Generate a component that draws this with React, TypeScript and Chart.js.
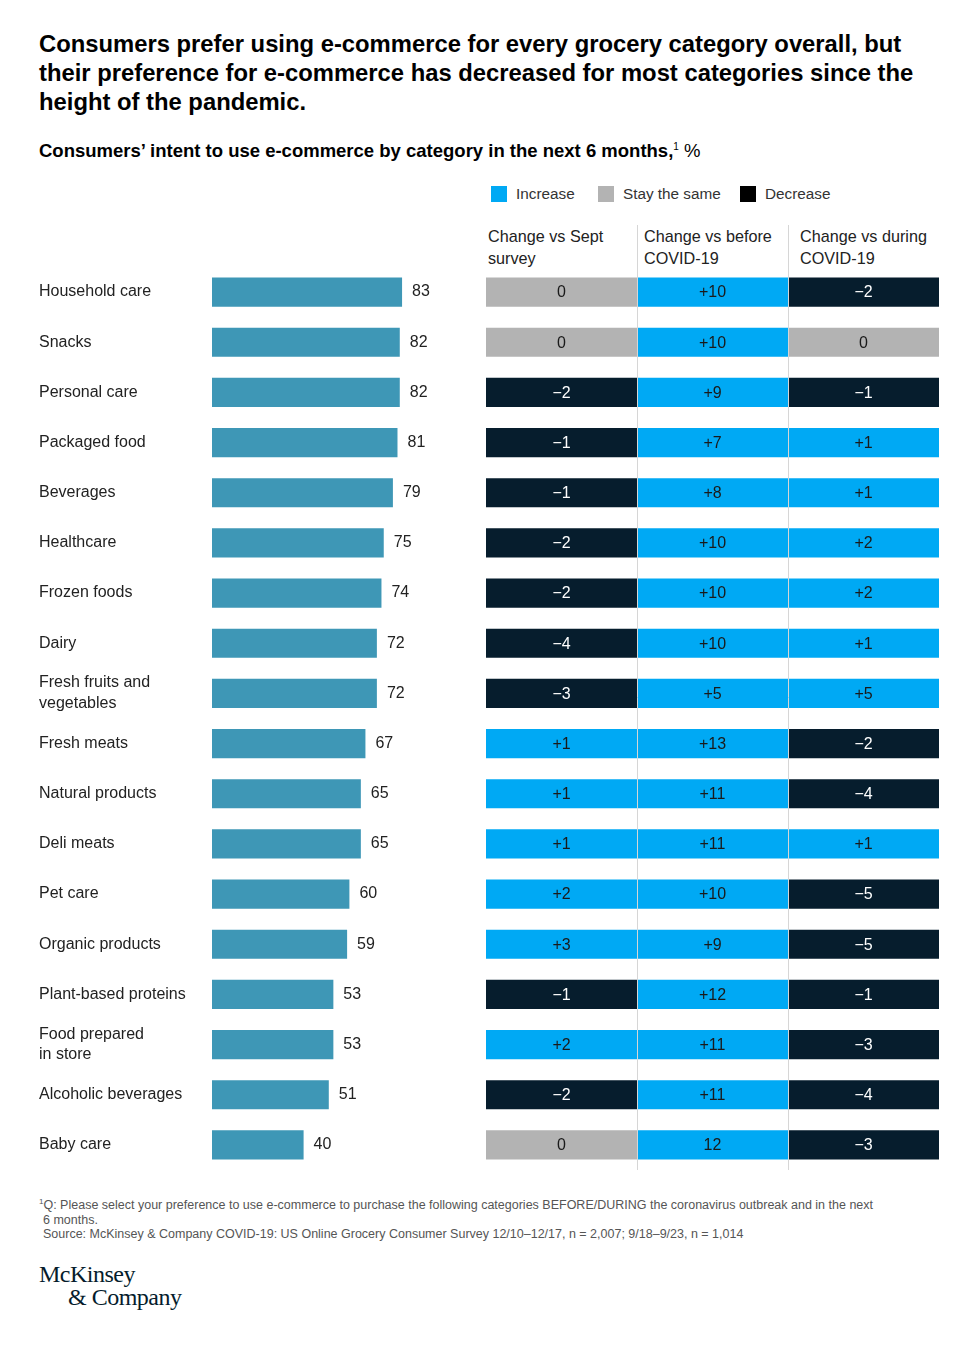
import React, { useEffect, useRef } from "react";
import { Chart, registerables } from "chart.js";

Chart.register(...registerables);

const categories: (string | string[])[] = [
  "Household care",
  "Snacks",
  "Personal care",
  "Packaged food",
  "Beverages",
  "Healthcare",
  "Frozen foods",
  "Dairy",
  ["Fresh fruits and", "vegetables"],
  "Fresh meats",
  "Natural products",
  "Deli meats",
  "Pet care",
  "Organic products",
  "Plant-based proteins",
  ["Food prepared", "in store"],
  "Alcoholic beverages",
  "Baby care",
];

const intentValues = [83, 82, 82, 81, 79, 75, 74, 72, 72, 67, 65, 65, 60, 59, 53, 53, 51, 40];

const changeVsSept = [0, 0, -2, -1, -1, -2, -2, -4, -3, 1, 1, 1, 2, 3, -1, 2, -2, 0];
const changeVsBefore = [10, 10, 9, 7, 8, 10, 10, 10, 5, 13, 11, 11, 10, 9, 12, 11, 11, 12];
const changeVsDuring = [-2, 0, -1, 1, 1, 2, 2, 1, 5, -2, -4, 1, -5, -5, -1, -3, -4, -3];

const columnHeaders = [
  ["Change vs Sept", "survey"],
  ["Change vs before", "COVID-19"],
  ["Change vs during", "COVID-19"],
];

// cells printed without a plus sign in the original (row, column)
const unsignedCells = [[17, 1]];

const FONT = "'Liberation Sans', Arial, sans-serif";
const BAR_COLOR = "#3E97B6";
const INC = "#00A9F4";
const SAME = "#B3B3B3";
const DEC = "#061D2D";

const colorFor = (v: number) => (v > 0 ? INC : v < 0 ? DEC : SAME);
const formatCell = (v: number, r: number, c: number) => {
  const unsigned = unsignedCells.some(([rr, cc]) => rr === r && cc === c);
  if (v > 0) return (unsigned ? "" : "+") + v;
  if (v < 0) return "\u2212" + Math.abs(v);
  return "0";
};

function LeftBars() {
  const ref = useRef<HTMLCanvasElement>(null);
  useEffect(() => {
    const valuePlugin = {
      id: "valueLabels",
      afterDatasetsDraw(chart: any) {
        const ctx = chart.ctx;
        const meta = chart.getDatasetMeta(0);
        ctx.save();
        ctx.font = `16px ${FONT}`;
        ctx.fillStyle = "#222";
        ctx.textAlign = "left";
        ctx.textBaseline = "middle";
        meta.data.forEach((el: any, i: number) => {
          ctx.fillText(String(intentValues[i]), el.x + 10, el.y);
        });
        ctx.restore();
      },
    };
    const chart = new Chart(ref.current!, {
      type: "bar",
      data: {
        labels: categories,
        datasets: [
          {
            data: intentValues,
            backgroundColor: BAR_COLOR,
            borderWidth: 0,
            barPercentage: 0.58,
            categoryPercentage: 1,
          },
        ],
      },
      options: {
        indexAxis: "y",
        responsive: false,
        animation: false,
        devicePixelRatio: 1,
        layout: { padding: 0 },
        plugins: { legend: { display: false }, tooltip: { enabled: false } },
        scales: {
          x: { min: 0, max: 100, display: false },
          y: {
            grid: { display: false, drawTicks: false },
            border: { display: false },
            ticks: {
              autoSkip: false,
              crossAlign: "far",
              padding: 0,
              color: "#222",
              font: { family: FONT, size: 16, lineHeight: 1.3 },
            },
            afterFit: (s: any) => {
              s.width = 173;
              s.paddingTop = 0;
              s.paddingBottom = 0;
            },
          },
        },
      },
      plugins: [valuePlugin],
    } as any);
    return () => chart.destroy();
  }, []);
  return (
    <canvas
      ref={ref}
      width={402}
      height={903}
      style={{ position: "absolute", left: 39, top: 267, width: 402, height: 903 }}
    />
  );
}

function RightTable() {
  const ref = useRef<HTMLCanvasElement>(null);
  useEffect(() => {
    const columns = [changeVsSept, changeVsBefore, changeVsDuring];
    const cellPlugin = {
      id: "cellLabels",
      afterDatasetsDraw(chart: any) {
        const ctx = chart.ctx;
        const xs = chart.scales.x;
        ctx.save();
        ctx.strokeStyle = "#d6d6d6";
        ctx.lineWidth = 1;
        [1, 2].forEach((v) => {
          const px = Math.round(xs.getPixelForValue(v)) + 0.5;
          ctx.beginPath();
          ctx.moveTo(px, 0);
          ctx.lineTo(px, chart.height);
          ctx.stroke();
        });
        ctx.font = `16px ${FONT}`;
        ctx.textAlign = "center";
        ctx.textBaseline = "middle";
        columns.forEach((col, c) => {
          const meta = chart.getDatasetMeta(c);
          meta.data.forEach((el: any, r: number) => {
            const v = col[r];
            ctx.fillStyle = v < 0 ? "#ffffff" : "#1a1a1a";
            const cx = (el.x + el.base) / 2;
            ctx.fillText(formatCell(v, r, c), cx, el.y + 1);
          });
        });
        ctx.restore();
      },
    };
    const chart = new Chart(ref.current!, {
      type: "bar",
      data: {
        labels: categories,
        datasets: columns.map((col, c) => ({
          data: col.map(() => [c, c + 1]),
          backgroundColor: col.map(colorFor),
          borderWidth: 0,
          barPercentage: 0.58,
          categoryPercentage: 1,
          grouped: false,
        })),
      },
      options: {
        indexAxis: "y",
        responsive: false,
        animation: false,
        devicePixelRatio: 1,
        layout: { padding: { top: 42, bottom: 0, left: 0, right: 0 } },
        plugins: { legend: { display: false }, tooltip: { enabled: false } },
        scales: {
          x: { type: "linear", min: 0, max: 3, display: false },
          y: { type: "category", display: false },
        },
      },
      plugins: [cellPlugin],
    } as any);
    return () => chart.destroy();
  }, []);
  return (
    <canvas
      ref={ref}
      width={453}
      height={945}
      style={{ position: "absolute", left: 486, top: 225, width: 453, height: 945 }}
    />
  );
}

const legendItems = [
  { label: "Increase", color: INC, x: 491 },
  { label: "Stay the same", color: SAME, x: 598 },
  { label: "Decrease", color: "#000000", x: 740 },
];

export default function App() {
  return (
    <div
      style={{
        position: "absolute",
        left: 0,
        top: 0,
        width: 980,
        height: 1350,
        background: "#fff",
        fontFamily: FONT,
        color: "#111",
      }}
    >
      <div
        style={{
          position: "absolute",
          left: 39,
          top: 29,
          fontWeight: 700,
          fontSize: 23.8,
          lineHeight: "29px",
          whiteSpace: "nowrap",
          color: "#000",
        }}
      >
        Consumers prefer using e-commerce for every grocery category overall, but
        <br />
        their preference for e-commerce has decreased for most categories since the
        <br />
        height of the pandemic.
      </div>
      <div
        style={{
          position: "absolute",
          left: 39,
          top: 136,
          fontWeight: 700,
          fontSize: 18.5,
          lineHeight: "22px",
          whiteSpace: "nowrap",
          color: "#000",
        }}
      >
        Consumers’ intent to use e-commerce by category in the next 6 months,
        <sup style={{ fontWeight: 400, fontSize: 10 }}>1</sup>
        <span style={{ fontWeight: 400 }}> %</span>
      </div>

      {legendItems.map((it) => (
        <div key={it.label}>
          <div
            style={{
              position: "absolute",
              left: it.x,
              top: 186,
              width: 16,
              height: 16,
              background: it.color,
            }}
          />
          <div
            style={{
              position: "absolute",
              left: it.x + 25,
              top: 183,
              fontSize: 15.3,
              lineHeight: "22px",
              color: "#333",
              whiteSpace: "nowrap",
            }}
          >
            {it.label}
          </div>
        </div>
      ))}

      {columnHeaders.map((h, i) => (
        <div
          key={i}
          style={{
            position: "absolute",
            left: 488 + i * 156,
            top: 225,
            fontSize: 16.2,
            lineHeight: "22px",
            color: "#222",
            whiteSpace: "nowrap",
          }}
        >
          {h[0]}
          <br />
          {h[1]}
        </div>
      ))}

      <LeftBars />
      <RightTable />

      <div
        style={{
          position: "absolute",
          left: 39,
          top: 1195,
          fontSize: 12.5,
          lineHeight: "14.5px",
          color: "#555",
          whiteSpace: "nowrap",
        }}
      >
        <div>
          <sup style={{ fontSize: 8 }}>1</sup>Q: Please select your preference to use e-commerce to purchase the
          following categories BEFORE/DURING the coronavirus outbreak and in the next
        </div>
        <div style={{ paddingLeft: 4 }}>6 months.</div>
        <div style={{ paddingLeft: 4 }}>
          Source: McKinsey &amp; Company COVID-19: US Online Grocery Consumer Survey 12/10–12/17, n = 2,007; 9/18–9/23, n
          = 1,014
        </div>
      </div>

      <div
        style={{
          position: "absolute",
          left: 39,
          top: 1263,
          fontFamily: "'Liberation Serif', 'Times New Roman', serif",
          fontSize: 24,
          lineHeight: "23px",
          letterSpacing: -0.5,
          color: "#051C2C",
          whiteSpace: "nowrap",
        }}
      >
        <div>McKinsey</div>
        <div style={{ paddingLeft: 29 }}>&amp; Company</div>
      </div>
    </div>
  );
}
